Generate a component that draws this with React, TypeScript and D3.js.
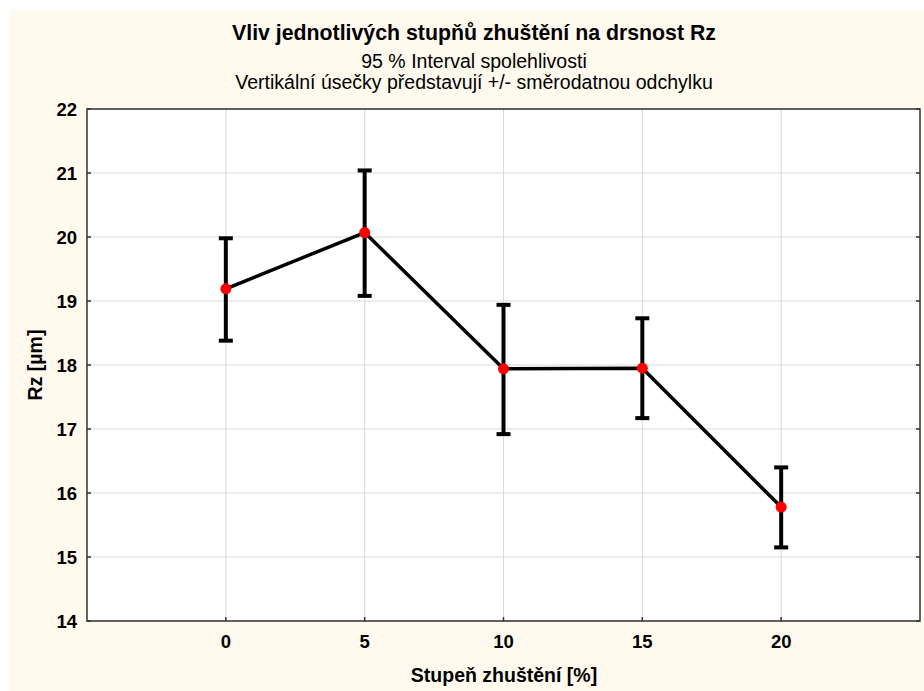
import React from 'react';
import * as d3 from 'd3';

const stupne = [0, 5, 10, 15, 20];
const prumery = [19.19, 20.07, 17.94, 17.95, 15.78];
const horni = [19.98, 21.04, 18.94, 18.73, 16.4];
const dolni = [18.38, 19.08, 16.92, 17.17, 15.15];
const yTicks = [14, 15, 16, 17, 18, 19, 20, 21, 22];

const W = 924;
const H = 691;
const m = { left: 87, top: 109, right: 920, bottom: 621 };
const font = 'Liberation Sans, Arial, sans-serif';

const App = () => {
  const x = d3.scaleLinear().domain([-5, 25]).range([m.left, m.right]);
  const y = d3.scaleLinear().domain([14, 22]).range([m.bottom, m.top]);

  const line = d3.line<number>()
    .x((d, i) => x(stupne[i]))
    .y(d => y(d));

  const cap = 7;

  return (
    <svg width={W} height={H} style={{ position: 'absolute', left: 0, top: 0 }}>
      <rect x={0} y={0} width={W} height={H} fill="#ffffff" />
      <rect x={9} y={10} width={W - 9} height={H - 10} fill="#fff9ee" />

      <text x={474} y={40} textAnchor="middle" fontFamily={font} fontWeight="bold" fontSize={21.3}>
        Vliv jednotlivých stupňů zhuštění na drsnost Rz
      </text>
      <text x={474} y={68} textAnchor="middle" fontFamily={font} fontSize={19.5}>
        95 % Interval spolehlivosti
      </text>
      <text x={474} y={89} textAnchor="middle" fontFamily={font} fontSize={19.5}>
        Vertikální úsečky představují +/- směrodatnou odchylku
      </text>

      <rect x={m.left} y={m.top} width={m.right - m.left} height={m.bottom - m.top} fill="#ffffff" />

      {yTicks.map(t => (
        <line key={'gy' + t} x1={m.left} x2={m.right} y1={y(t)} y2={y(t)} stroke="#d9d9d9" strokeWidth={1} />
      ))}
      {stupne.map(t => (
        <line key={'gx' + t} x1={x(t)} x2={x(t)} y1={m.top} y2={m.bottom} stroke="#d9d9d9" strokeWidth={1} />
      ))}

      {yTicks.map(t => (
        <g key={'ty' + t}>
          <line x1={m.left} x2={m.left + 4} y1={y(t)} y2={y(t)} stroke="#333" strokeWidth={1.5} />
          <line x1={m.right - 4} x2={m.right} y1={y(t)} y2={y(t)} stroke="#333" strokeWidth={1.5} />
          <text x={77} y={y(t) + 7} textAnchor="end" fontFamily={font} fontWeight="bold" fontSize={18.5}>
            {t}
          </text>
        </g>
      ))}
      {stupne.map(t => (
        <g key={'tx' + t}>
          <line x1={x(t)} x2={x(t)} y1={m.bottom - 4} y2={m.bottom} stroke="#333" strokeWidth={1.5} />
          <text x={x(t)} y={648} textAnchor="middle" fontFamily={font} fontWeight="bold" fontSize={18.5}>
            {t}
          </text>
        </g>
      ))}

      <rect x={m.left} y={m.top} width={m.right - m.left} height={m.bottom - m.top} fill="none" stroke="#333" strokeWidth={1.5} />

      <text x={504} y={681.5} textAnchor="middle" fontFamily={font} fontWeight="bold" fontSize={19.5}>
        Stupeň zhuštění [%]
      </text>
      <text transform={`translate(42,${(m.top + m.bottom) / 2}) rotate(-90)`} textAnchor="middle" fontFamily={font} fontWeight="bold" fontSize={19.5}>
        Rz [µm]
      </text>

      <path d={line(prumery) || ''} fill="none" stroke="#000" strokeWidth={3.5} strokeLinejoin="round" />

      {stupne.map((s, i) => (
        <g key={'e' + s} stroke="#000" strokeWidth={4}>
          <line x1={x(s)} x2={x(s)} y1={y(horni[i])} y2={y(dolni[i])} />
          <line x1={x(s) - cap} x2={x(s) + cap} y1={y(horni[i])} y2={y(horni[i])} />
          <line x1={x(s) - cap} x2={x(s) + cap} y1={y(dolni[i])} y2={y(dolni[i])} />
        </g>
      ))}

      {stupne.map((s, i) => (
        <circle key={'p' + s} cx={x(s)} cy={y(prumery[i])} r={5.5} fill="#ff0000" />
      ))}
    </svg>
  );
};

export default App;
